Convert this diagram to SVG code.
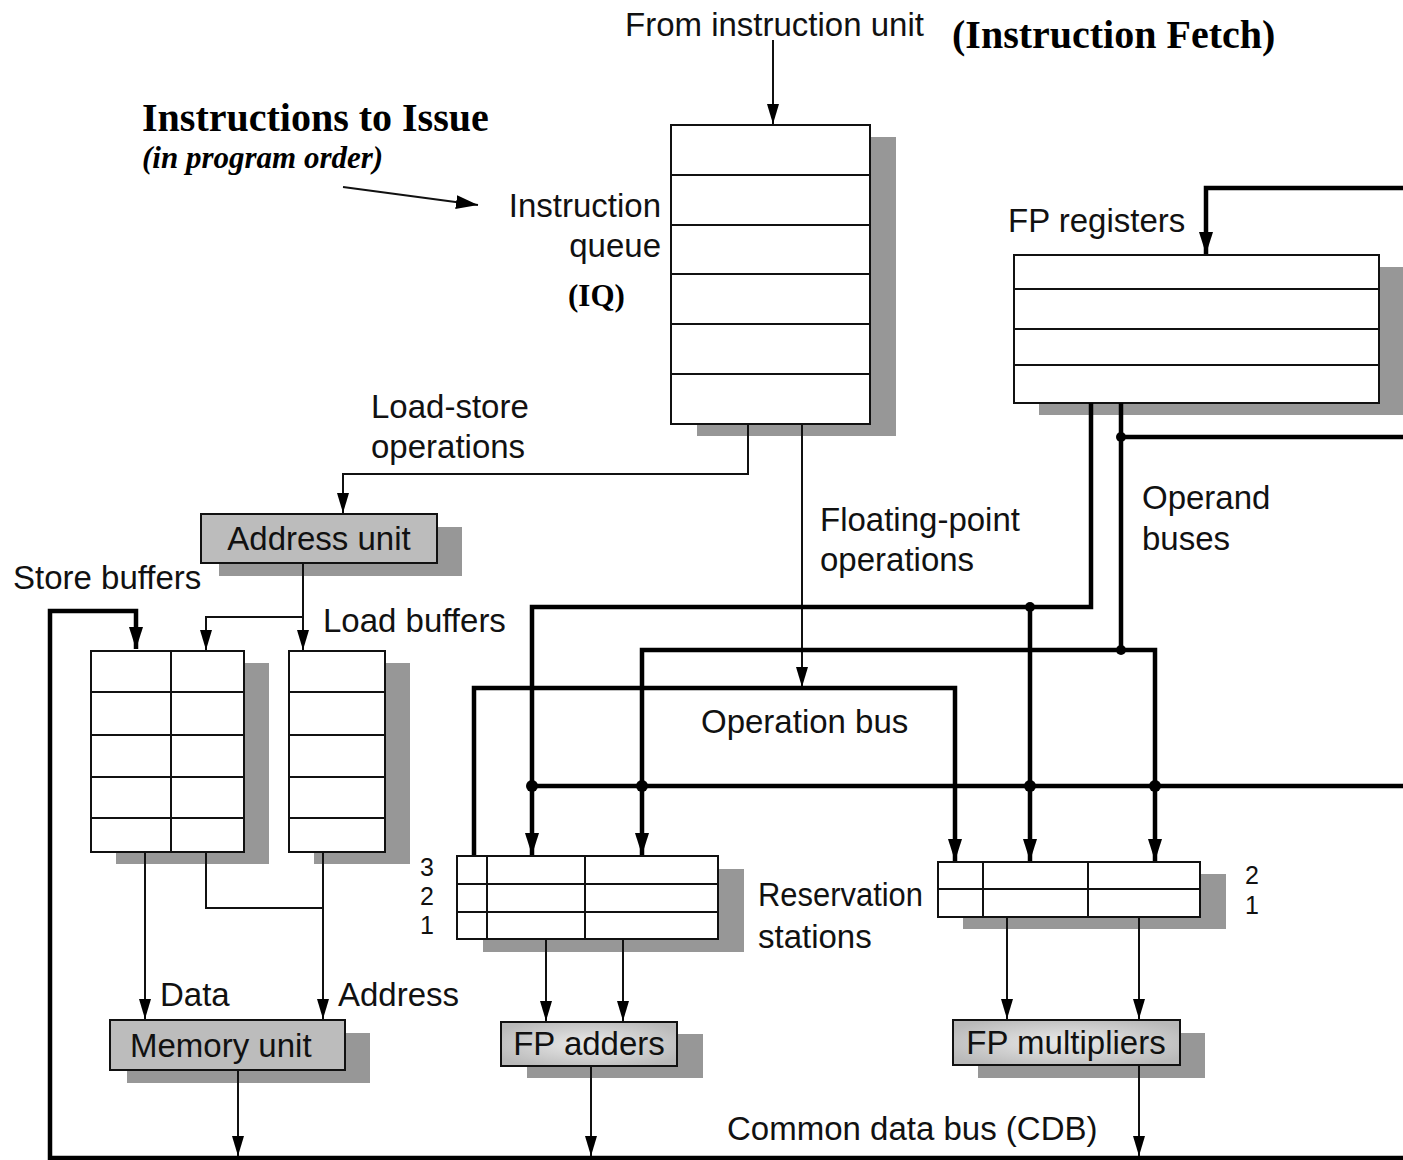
<svg xmlns="http://www.w3.org/2000/svg" width="1403" height="1160" viewBox="0 0 1403 1160">
  <defs>
    <style>
      .lbl { font-family: "Liberation Sans", Arial, sans-serif; font-size: 33px; fill: #111; }
      .num { font-family: "Liberation Sans", Arial, sans-serif; font-size: 25px; fill: #111; }
      .ttl { font-family: "Liberation Serif", "Times New Roman", serif; font-weight: bold; fill: #000; }
      .box { fill: #fff; stroke: #111; stroke-width: 2; }
      .grid { stroke: #111; stroke-width: 2; fill: none; }
      .shadow { fill: #979797; }
      .unit { fill: #bcbcbc; stroke: #111; stroke-width: 2; }
      .unitg { fill: url(#unitGrad); stroke: #111; stroke-width: 2; }
      .thin { stroke: #111; stroke-width: 2; fill: none; }
      .thick { stroke: #000; stroke-width: 4.5; fill: none; }
      .dot { fill: #000; }
    </style>
    <radialGradient id="unitGrad" cx="0.5" cy="0.5" r="0.6">
      <stop offset="0" stop-color="#ebebeb"/>
      <stop offset="1" stop-color="#b9b9b9"/>
    </radialGradient>
    <marker id="arr" viewBox="0 0 20 12" refX="20" refY="6" markerWidth="20" markerHeight="12" markerUnits="userSpaceOnUse" orient="auto">
      <path d="M0,0 L20,6 L0,12 z" fill="#000"/>
    </marker>
    <marker id="arrB" viewBox="0 0 22 14" refX="22" refY="7" markerWidth="22" markerHeight="14" markerUnits="userSpaceOnUse" orient="auto">
      <path d="M0,0 L22,7 L0,14 z" fill="#000"/>
    </marker>
  </defs>

  <rect width="1403" height="1160" fill="#fff"/>

  <!-- headings -->
  <text class="ttl" x="952" y="48" font-size="40">(Instruction Fetch)</text>
  <text class="ttl" x="142" y="131" font-size="40">Instructions to Issue</text>
  <text class="ttl" x="142" y="168" font-size="31" font-style="italic">(in program order)</text>

  <!-- instruction queue -->
  <g id="instruction-queue">
    <rect class="shadow" x="697" y="137" width="199" height="299"/>
    <rect class="box" x="671" y="125" width="199" height="299"/>
    <path class="grid" d="M671,175 H870 M671,225 H870 M671,274 H870 M671,324 H870 M671,374 H870"/>
    <text class="lbl" x="661" y="217" text-anchor="end">Instruction</text>
    <text class="lbl" x="661" y="257" text-anchor="end">queue</text>
    <text class="ttl" x="568" y="306" font-size="31">(IQ)</text>
  </g>

  <!-- FP register file -->
  <g id="fp-registers">
    <rect class="shadow" x="1039" y="267" width="370" height="148"/>
    <rect class="box" x="1014" y="255" width="365" height="148"/>
    <path class="grid" d="M1014,289 H1379 M1014,329 H1379 M1014,365 H1379"/>
    <text class="lbl" x="1008" y="232">FP registers</text>
  </g>

  <!-- address unit -->
  <g id="address-unit">
    <rect class="shadow" x="219" y="527" width="243" height="49"/>
    <rect class="unit" x="201" y="514" width="236" height="49"/>
    <text class="lbl" x="319" y="550" text-anchor="middle">Address unit</text>
  </g>

  <!-- store buffers -->
  <g id="store-buffers">
    <rect class="shadow" x="116" y="663" width="153" height="201"/>
    <rect class="box" x="91" y="651" width="153" height="201"/>
    <path class="grid" d="M91,692 H244 M91,735 H244 M91,777 H244 M91,818 H244 M171,651 V852"/>
    <text class="lbl" x="13" y="589">Store buffers</text>
  </g>

  <!-- load buffers -->
  <g id="load-buffers">
    <rect class="shadow" x="314" y="663" width="96" height="201"/>
    <rect class="box" x="289" y="651" width="96" height="201"/>
    <path class="grid" d="M289,692 H385 M289,735 H385 M289,777 H385 M289,818 H385"/>
    <text class="lbl" x="323" y="632">Load buffers</text>
  </g>

  <!-- reservation stations for the adders -->
  <g id="adder-stations">
    <rect class="shadow" x="483" y="869" width="261" height="83"/>
    <rect class="box" x="457" y="856" width="261" height="83"/>
    <path class="grid" d="M457,884 H718 M457,912 H718 M487,856 V939 M585,856 V939"/>
    <text class="num" x="427" y="876" text-anchor="middle">3</text>
    <text class="num" x="427" y="905" text-anchor="middle">2</text>
    <text class="num" x="427" y="934" text-anchor="middle">1</text>
  </g>

  <!-- reservation stations for the multipliers -->
  <g id="multiplier-stations">
    <rect class="shadow" x="963" y="874" width="263" height="55"/>
    <rect class="box" x="938" y="862" width="262" height="55"/>
    <path class="grid" d="M938,889 H1200 M983,862 V917 M1088,862 V917"/>
    <text class="num" x="1252" y="884" text-anchor="middle">2</text>
    <text class="num" x="1252" y="914" text-anchor="middle">1</text>
  </g>

  <g id="reservation-label">
    <text class="lbl" x="758" y="906" textLength="165" lengthAdjust="spacingAndGlyphs">Reservation</text>
    <text class="lbl" x="758" y="948">stations</text>
  </g>

  <!-- functional units -->
  <g id="memory-unit">
    <rect class="shadow" x="127" y="1033" width="243" height="50"/>
    <rect class="unit" x="110" y="1020" width="235" height="50"/>
    <text class="lbl" x="130" y="1057">Memory unit</text>
  </g>

  <g id="fp-adders">
    <rect class="shadow" x="527" y="1034" width="176" height="44"/>
    <rect class="unitg" x="501" y="1022" width="176" height="44"/>
    <text class="lbl" x="589" y="1055" text-anchor="middle">FP adders</text>
  </g>

  <g id="fp-multipliers">
    <rect class="shadow" x="978" y="1033" width="227" height="45"/>
    <rect class="unitg" x="953" y="1020" width="227" height="45"/>
    <text class="lbl" x="1066" y="1054" text-anchor="middle">FP multipliers</text>
  </g>

  <!-- connectors -->
  <g id="connectors">
    <!-- instruction fetch into the queue -->
    <text class="lbl" x="625" y="36">From instruction unit</text>
    <line class="thin" x1="773" y1="40" x2="773" y2="124" marker-end="url(#arr)"/>
    <line class="thin" x1="343" y1="187" x2="478" y2="205" stroke-width="2.5" marker-end="url(#arrB)"/>

    <!-- load/store path -->
    <path class="thin" d="M748,424 V474 H343 V513" marker-end="url(#arr)"/>
    <text class="lbl" x="371" y="418">Load-store</text>
    <text class="lbl" x="371" y="458">operations</text>

    <!-- address unit to buffers -->
    <path class="thin" d="M303,563 V650" marker-end="url(#arr)"/>
    <path class="thin" d="M303,617 H206 V650" marker-end="url(#arr)"/>

    <!-- buffers to memory unit -->
    <path class="thin" d="M145,852 V1019" marker-end="url(#arr)"/>
    <path class="thin" d="M206,852 V908 H323"/>
    <path class="thin" d="M323,852 V1019" marker-end="url(#arr)"/>
    <text class="lbl" x="160" y="1006">Data</text>
    <text class="lbl" x="338" y="1006">Address</text>

    <!-- floating-point operations onto the operation bus -->
    <path class="thin" d="M802,424 V687" marker-end="url(#arr)"/>
    <text class="lbl" x="820" y="531">Floating-point</text>
    <text class="lbl" x="820" y="571">operations</text>

    <!-- operation bus -->
    <path class="thick" d="M474,855 V688 H955 V861" marker-end="url(#arrB)"/>
    <text class="lbl" x="701" y="733">Operation bus</text>

    <!-- operand buses from the register file -->
    <path class="thick" d="M1091,403 V607 H532 V855" marker-end="url(#arrB)"/>
    <path class="thick" d="M1030,607 V861" marker-end="url(#arrB)"/>
    <path class="thick" d="M1121,403 V650 H642 V855" marker-end="url(#arrB)"/>
    <path class="thick" d="M1121,650 H1155 V861" marker-end="url(#arrB)"/>
    <path class="thick" d="M1121,437 H1403"/>
    <text class="lbl" x="1142" y="509">Operand</text>
    <text class="lbl" x="1142" y="550">buses</text>

    <!-- CDB feeding the stations -->
    <path class="thick" d="M532,786 H1403"/>

    <!-- CDB back into the register file -->
    <path class="thick" d="M1403,188 H1206 V254" marker-end="url(#arrB)"/>

    <!-- stations to functional units -->
    <path class="thin" d="M546,939 V1021" marker-end="url(#arr)"/>
    <path class="thin" d="M623,939 V1021" marker-end="url(#arr)"/>
    <path class="thin" d="M1007,917 V1019" marker-end="url(#arr)"/>
    <path class="thin" d="M1139,917 V1019" marker-end="url(#arr)"/>

    <!-- results onto the common data bus -->
    <path class="thin" d="M238,1070 V1156" marker-end="url(#arr)"/>
    <path class="thin" d="M591,1066 V1156" marker-end="url(#arr)"/>
    <path class="thin" d="M1139,1065 V1156" marker-end="url(#arr)"/>
    <path class="thick" d="M1403,1158 H50 V611 H136 V649" marker-end="url(#arrB)"/>
    <text class="lbl" x="727" y="1140">Common data bus (CDB)</text>

    <!-- bus junctions -->
    <circle class="dot" cx="1030" cy="607" r="5"/>
    <circle class="dot" cx="1121" cy="650" r="5"/>
    <circle class="dot" cx="1121" cy="437" r="5"/>
    <circle class="dot" cx="532" cy="786" r="6"/>
    <circle class="dot" cx="642" cy="786" r="6"/>
    <circle class="dot" cx="1030" cy="786" r="6"/>
    <circle class="dot" cx="1155" cy="786" r="6"/>
  </g>
</svg>
